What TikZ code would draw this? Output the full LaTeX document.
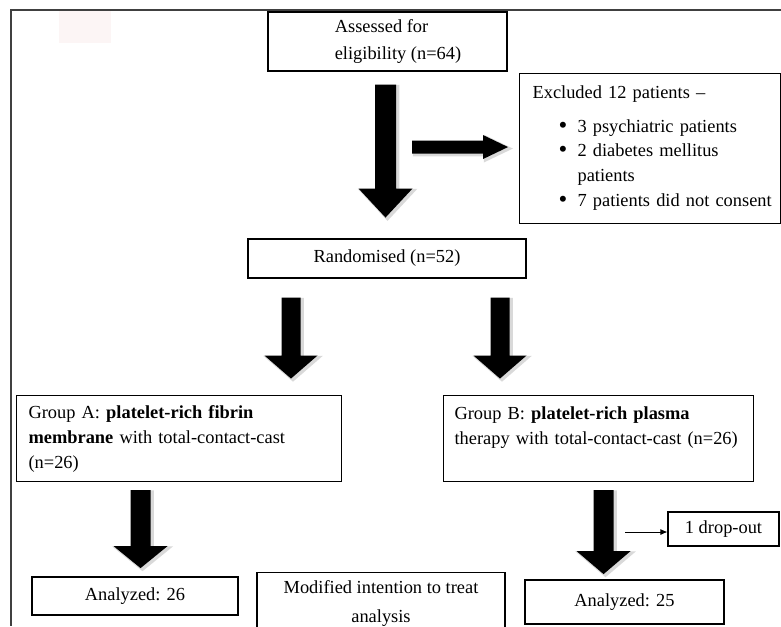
\documentclass[tikz,border=0pt]{standalone}
\usepackage{fontspec}
\setmainfont{Liberation Serif}
\usetikzlibrary{calc,arrows.meta}
\definecolor{framegray}{HTML}{404040}
\definecolor{shadowgray}{HTML}{D9D9D9}
\definecolor{faintpink}{HTML}{FCF5F5}
\newcommand\blkdown[5]{% #1 top-centre, #2 half shaft, #3 shaft length, #4 half head, #5 head length
  \filldraw[shadowgray, line width=2.5pt, line join=miter] ([shift={(2,1.5)}]#1) ++({-#2},0) -- ++({2*#2},0) -- ++(0,#3) -- ++({#4-#2},0) -- ++({-#4},#5) -- ++({-#4},{-#5}) -- ++({#4-#2},0) -- cycle;
  \fill[black] (#1) ++({-#2},0) -- ++({2*#2},0) -- ++(0,#3) -- ++({#4-#2},0) -- ++({-#4},#5) -- ++({-#4},{-#5}) -- ++({#4-#2},0) -- cycle;
}
\newcommand\blkright[5]{% #1 left-centre, #2 half shaft, #3 shaft length, #4 half head, #5 head length
  \filldraw[shadowgray, line width=2.5pt, line join=miter] ([shift={(2,1.5)}]#1) ++(0,{-#2}) -- ++(#3,0) -- ++(0,{-(#4-#2)}) -- ++(#5,#4) -- ++({-#5},#4) -- ++(0,{-(#4-#2)}) -- ++({-#3},0) -- cycle;
  \fill[black] (#1) ++(0,{-#2}) -- ++(#3,0) -- ++(0,{-(#4-#2)}) -- ++(#5,#4) -- ++({-#5},#4) -- ++(0,{-(#4-#2)}) -- ++({-#3},0) -- cycle;
}
\newcommand\bulletmark{\makebox[19pt][l]{\raisebox{-1pt}{\fontsize{25}{25}\selectfont\textbullet}}}
\begin{document}
\begin{tikzpicture}[x=1pt,y=-1pt,
  box/.style={draw=black, line width=1.1pt, inner sep=0pt, fill=white,
    font=\fontsize{18.4}{25}\selectfont},
  thinarrow/.style={line width=0.9pt, -{Latex[length=7pt,width=6pt]}}]
\useasboundingbox (0,0) rectangle (781,626);
\clip (0,0) rectangle (781,626);

% faint artefact and outer frame
\fill[faintpink] (59,11) rectangle (111,43);
\draw[framegray, line width=1.5pt] (781,10) -- (11,10) -- (11,626);

% boxes
\node[box, minimum width=239pt, minimum height=59pt, align=left] (assess) at (387.5,41.5)
  {\hspace*{21pt}Assessed for\\[2pt]\hspace*{21pt}eligibility (n=64)};
\node[box, anchor=north west, minimum height=150pt, text width=261pt, align=left] (excl) at (519,73)
  {\hspace*{13pt}Excluded 12 patients –\\[9pt]
   \hspace*{39pt}\bulletmark 3 psychiatric patients\\[-1pt]
   \hspace*{39pt}\bulletmark 2 diabetes mellitus\\
   \hspace*{58pt}patients\\
   \hspace*{39pt}\bulletmark 7 patients did not consent};
\node[box, minimum width=278pt, minimum height=39pt] (rand) at (387,258.5) {Randomised (n=52)};
\node[box, anchor=north west, minimum height=86pt, text width=301pt, inner xsep=12pt, align=left] (ga) at (16,395)
  {Group A: \textbf{platelet-rich fibrin}\\\textbf{membrane} with total-contact-cast\\(n=26)};
\node[box, anchor=north west, minimum height=86pt, text width=288pt, inner xsep=11pt, align=left] (gb) at (443,395)
  {Group B: \textbf{platelet-rich plasma}\\therapy with total-contact-cast (n=26)\\\mbox{}};
\node[box, minimum width=206pt, minimum height=38pt] (ana) at (135,596) {Analyzed: 26};
\node[box, anchor=north, minimum width=248pt, minimum height=62pt, align=center] (mitt) at (381,572)
  {Modified intention to treat\\[4pt]analysis};
\node[box, minimum width=199pt, minimum height=44pt] (anb) at (624.5,602) {Analyzed: 25};
\node[box, minimum width=111pt, minimum height=34pt] (drop) at (723.5,529) {1 drop-out};

% block arrows
\coordinate (a1) at ($(assess.south)+(-2,13)$);
\coordinate (a2) at ($(excl.west)+(-107,-1.5)$);
\coordinate (a3) at ($(rand.south)+(-96,19)$);
\coordinate (a4) at ($(rand.south)+(113,19)$);
\coordinate (a5) at ($(ga.south)+(-38.5,8)$);
\coordinate (a6) at ($(gb.south)+(5,8)$);
\blkdown{a1}{10.5}{104}{27}{29}
\blkright{a2}{6.5}{71}{12}{25}
\blkdown{a3}{9.5}{58}{26.5}{23}
\blkdown{a4}{9.5}{58}{26.5}{23}
\blkdown{a5}{10}{56}{27}{22}
\blkdown{a6}{10}{61}{27}{23}

% drop-out connector
\coordinate (dropfrom) at (625,532);
\draw[thinarrow] (dropfrom) -- (dropfrom -| drop.west);
\end{tikzpicture}
\end{document}
